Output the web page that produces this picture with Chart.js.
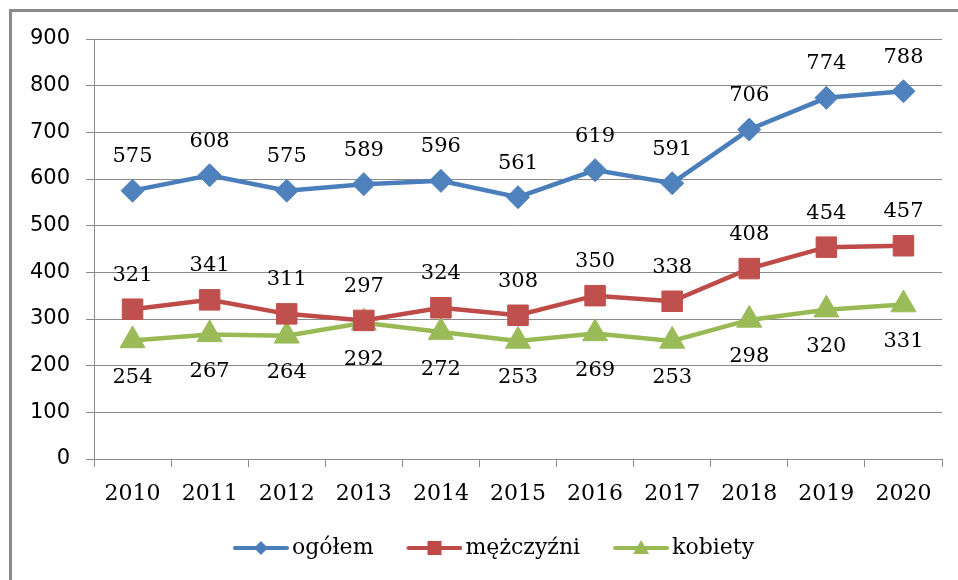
<!DOCTYPE html>
<html>
<head>
<meta charset="utf-8">
<script src="https://cdn.jsdelivr.net/npm/chart.js@4"></script>
<style>
  html, body { margin: 0; padding: 0; background: #fff; }
  #wrap { position: relative; width: 958px; height: 580px; overflow: hidden; }
  #frame { position: absolute; left: 9px; top: 9px; width: 1000px; height: 1000px;
           border-left: 3px solid #8a8a8a; border-top: 3px solid #8a8a8a; box-sizing: border-box; }
  #chart { position: absolute; left: 0; top: 0; }
</style>
</head>
<body>
<div id="wrap">
  <div id="frame"></div>
  <canvas id="chart" width="958" height="580"></canvas>
</div>
<script>
const years = ['2010', '2011', '2012', '2013', '2014', '2015', '2016', '2017', '2018', '2019', '2020'];
const ogolem = [575, 608, 575, 589, 596, 561, 619, 591, 706, 774, 788];
const mezczyzni = [321, 341, 311, 297, 324, 308, 350, 338, 408, 454, 457];
const kobiety = [254, 267, 264, 292, 272, 253, 269, 253, 298, 320, 331];
const seriesNames = ['ogółem', 'mężczyźni', 'kobiety'];

const blue = '#4a7ebb';
const red = '#be4b48';
const green = '#98b954';

// line+marker pictures for the legend (drawn in the right part so they sit close to the text)
function legendIcon(color, shape) {
  const c = document.createElement('canvas');
  c.width = 69;
  c.height = 20;
  const g = c.getContext('2d');
  const x0 = 13;
  const mx = x0 + 28;
  g.strokeStyle = color;
  g.fillStyle = color;
  g.lineWidth = 4;
  g.lineCap = 'round';
  g.beginPath();
  g.moveTo(x0 + 2, 10);
  g.lineTo(x0 + 54, 10);
  g.stroke();
  g.beginPath();
  if (shape === 'diamond') {
    g.moveTo(mx, 3); g.lineTo(mx + 7, 10); g.lineTo(mx, 17); g.lineTo(mx - 7, 10);
  } else if (shape === 'square') {
    g.rect(mx - 7, 3, 14, 14);
  } else {
    g.moveTo(mx, 2); g.lineTo(mx + 8, 16); g.lineTo(mx - 8, 16);
  }
  g.closePath();
  g.fill();
  return c;
}
const legendIcons = [legendIcon(blue, 'diamond'), legendIcon(red, 'square'), legendIcon(green, 'triangle')];

const labelOffsets = [-34, -34, 37];

const valueLabels = {
  id: 'valueLabels',
  afterLayout(chart) {
    // legend sits a bit right of the canvas centre in the original
    chart.legend.left = 40;
  },
  afterDatasetsDraw(chart) {
    const ctx = chart.ctx;
    ctx.save();
    ctx.font = '21px "DejaVu Serif"';
    ctx.fillStyle = '#000';
    ctx.textAlign = 'center';
    ctx.textBaseline = 'middle';
    chart.data.datasets.forEach((ds, i) => {
      const meta = chart.getDatasetMeta(i);
      meta.data.forEach((pt, j) => {
        ctx.fillText(String(ds.data[j]), pt.x, pt.y + labelOffsets[i]);
      });
    });
    ctx.restore();
  }
};

new Chart(document.getElementById('chart'), {
  type: 'line',
  data: {
    labels: years,
    datasets: [
      {
        label: seriesNames[0],
        data: ogolem,
        borderColor: blue,
        backgroundColor: '#4f81bd',
        pointBorderColor: '#4f81bd',
        borderWidth: 4.5,
        pointStyle: 'rectRot',
        pointRadius: 11.5,
        pointBorderWidth: 1,
        tension: 0
      },
      {
        label: seriesNames[1],
        data: mezczyzni,
        borderColor: red,
        backgroundColor: '#c0504d',
        pointBorderColor: '#c0504d',
        borderWidth: 4.5,
        pointStyle: 'rect',
        pointRadius: 14.5,
        pointBorderWidth: 1,
        tension: 0
      },
      {
        label: seriesNames[2],
        data: kobiety,
        borderColor: green,
        backgroundColor: '#9bbb59',
        pointBorderColor: '#9bbb59',
        borderWidth: 4.5,
        pointStyle: 'triangle',
        pointRadius: 14.5,
        pointBorderWidth: 1,
        tension: 0
      }
    ]
  },
  options: {
    responsive: false,
    animation: false,
    layout: {
      padding: { left: 4, right: 16, top: 39, bottom: 11 }
    },
    plugins: {
      tooltip: { enabled: false },
      legend: {
        position: 'bottom',
        labels: {
          usePointStyle: true,
          pointStyleWidth: 53,
          padding: 28,
          color: '#000',
          font: { family: 'DejaVu Serif', size: 22 },
          generateLabels(chart) {
            const items = Chart.defaults.plugins.legend.labels.generateLabels(chart);
            items.forEach((it, i) => { it.pointStyle = legendIcons[i]; });
            return items;
          }
        }
      }
    },
    scales: {
      x: {
        offset: true,
        afterFit(scale) { scale.height = 50; },
        grid: {
          offset: true,
          drawOnChartArea: false,
          drawTicks: true,
          tickLength: 8,
          color: '#8a8a8a'
        },
        border: { display: true, color: '#8a8a8a', width: 1 },
        ticks: {
          color: '#000',
          padding: 14,
          font: { family: 'DejaVu Serif', size: 22 }
        }
      },
      y: {
        min: 0,
        max: 900,
        afterFit(scale) { scale.width = 90; },
        grid: {
          color: '#8a8a8a',
          drawTicks: true,
          tickLength: 8
        },
        border: { display: true, color: '#8a8a8a', width: 1 },
        ticks: {
          stepSize: 100,
          color: '#000',
          padding: 16,
          font: { family: 'DejaVu Sans', size: 21 }
        }
      }
    }
  },
  plugins: [valueLabels]
});
</script>
</body>
</html>
